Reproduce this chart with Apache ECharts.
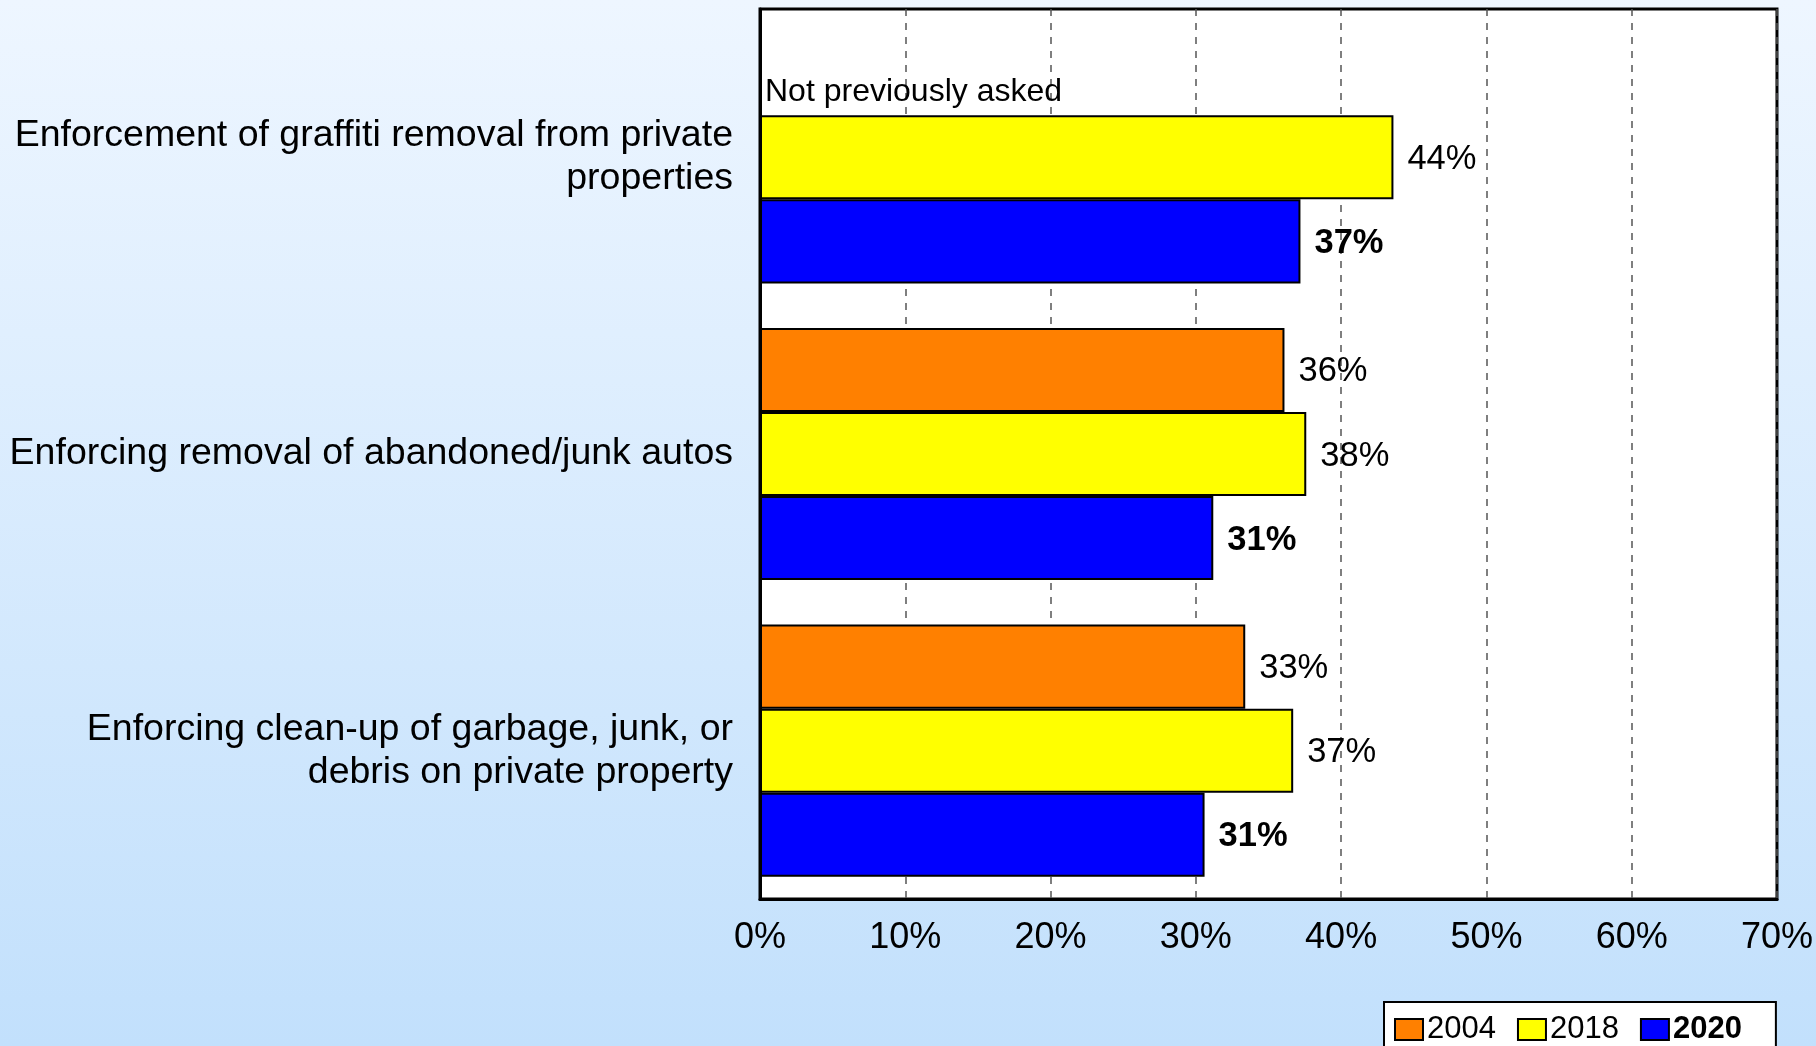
<!DOCTYPE html>
<html>
<head>
<meta charset="utf-8">
<script src="https://cdn.jsdelivr.net/npm/echarts@6/dist/echarts.min.js"></script>
<style>
html,body{margin:0;padding:0;width:1816px;height:1046px;overflow:hidden;}
#c{width:1816px;height:1046px;}
</style>
</head>
<body>
<div id="c"></div>
<script>
const categories = [
  'Enforcement of graffiti removal from private\nproperties',
  'Enforcing removal of abandoned/junk autos',
  'Enforcing clean-up of garbage, junk, or\ndebris on private property'
];
const seriesNames = ['2004', '2018', '2020'];
const v2004 = [null, 36.1, 33.4];
const v2018 = [43.6, 37.6, 36.7];
const v2020 = [37.2, 31.2, 30.6];
const xTicks = [0, 10, 20, 30, 40, 50, 60, 70];
const missingNote = 'Not previously asked';

const FONT = '"Liberation Sans", Arial, sans-serif';

function mkData(arr) {
  return arr.map(v => v === null ? {
    value: 0,
    itemStyle: { color: 'rgba(0,0,0,0)', borderWidth: 0 },
    label: { show: true, formatter: missingNote, position: 'right', distance: 5, offset: [0, 19], fontSize: 32, fontWeight: 'normal' }
  } : v);
}

const colors = ['#ff8000', '#ffff00', '#0000ff'];
const vals = [v2004, v2018, v2020];

const chart = echarts.init(document.getElementById('c'), null, { renderer: 'canvas' });
chart.setOption({
  backgroundColor: {
    type: 'linear', x: 0, y: 0, x2: 0, y2: 1,
    colorStops: [{ offset: 0, color: '#eef6ff' }, { offset: 1, color: '#c2e0fc' }]
  },
  textStyle: { fontFamily: FONT },
  animation: false,
  grid: {
    left: 760, right: 37, top: 9, bottom: 147,
    show: true, backgroundColor: '#ffffff', borderColor: '#000000', borderWidth: 3,
    containLabel: false
  },
  legend: {
    data: seriesNames,
    left: 1384, top: 1002,
    padding: [12, 34, 20, 10],
    backgroundColor: '#ffffff', borderColor: '#000000', borderWidth: 2,
    icon: 'rect', itemWidth: 28, itemHeight: 21, itemGap: 21,
    itemStyle: { borderColor: '#000', borderWidth: 2 },
    textStyle: {
      fontSize: 31, color: '#000', fontFamily: FONT, padding: [0, 0, 0, -1],
      rich: { b: { fontSize: 31, fontWeight: 'bold', color: '#000', fontFamily: FONT } }
    },
    formatter: n => n === '2020' ? '{b|' + n + '}' : n
  },
  xAxis: {
    type: 'value', min: xTicks[0], max: xTicks[xTicks.length - 1], interval: 10,
    axisLine: { show: true, lineStyle: { color: '#000', width: 3 } },
    axisTick: { show: false },
    axisLabel: { formatter: '{value}%', fontSize: 36, color: '#000', margin: 21, fontFamily: FONT },
    splitLine: { show: true, lineStyle: { color: '#555', width: 1.5, type: [7, 7] } }
  },
  yAxis: {
    type: 'category', data: categories, inverse: true,
    axisLine: { show: true, lineStyle: { color: '#000', width: 3 } },
    axisTick: { show: false },
    axisLabel: { fontSize: 37.5, color: '#000', margin: 27, lineHeight: 43, align: 'right', fontFamily: FONT }
  },
  series: seriesNames.map((name, i) => ({
    name: name,
    type: 'bar',
    data: i === 0 ? mkData(vals[i]) : vals[i],
    barGap: '0%',
    barCategoryGap: '15%',
    itemStyle: { color: colors[i], borderColor: '#000', borderWidth: 2 },
    label: {
      show: true, position: 'right', distance: 14,
      formatter: p => Math.round(p.value) + '%',
      fontSize: 34.5, color: '#000', fontFamily: FONT,
      fontWeight: i === 2 ? 'bold' : 'normal',
      offset: [0, 2]
    }
  }))
});
</script>
</body>
</html>
